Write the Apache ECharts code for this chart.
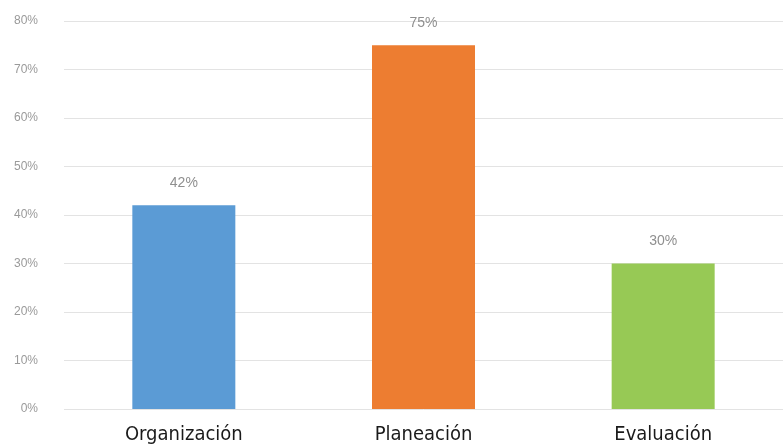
<!DOCTYPE html>
<html><head><meta charset="utf-8">
<script src="https://cdn.jsdelivr.net/npm/echarts@6/dist/echarts.min.js"></script>
<style>html,body{margin:0;padding:0;background:#fff}#c{width:783px;height:448px}</style>
</head><body><div id="c"></div>
<script>
const categories = ['Organización', 'Planeación', 'Evaluación'];
const values = [42, 75, 30];
const barColors = ['#5B9BD5', '#ED7D31', '#97C955'];
const yTicks = { min: 0, max: 80, interval: 10 };

const chart = echarts.init(document.getElementById('c'));
chart.setOption({
  animation: false,
  grid: { left: 64, right: 0, top: 21, bottom: 39, containLabel: false },
  xAxis: {
    type: 'category', data: categories,
    axisLine: { show: false }, axisTick: { show: false },
    axisLabel: { color: '#1a1a1a', fontSize: 20, fontFamily: '"Liberation Sans Narrow", "DejaVu Sans Condensed", sans-serif', margin: 16 }
  },
  yAxis: {
    type: 'value', min: yTicks.min, max: yTicks.max, interval: yTicks.interval,
    axisLine: { show: false }, axisTick: { show: false },
    splitLine: { lineStyle: { color: '#e3e3e3', width: 1 } },
    axisLabel: { formatter: '{value}%', color: '#9a9a9a', fontSize: 12, fontFamily: '"Liberation Sans Narrow", sans-serif', margin: 26 }
  },
  series: [{
    type: 'bar', barWidth: 103,
    data: values.map((v, i) => ({ value: v, itemStyle: { color: barColors[i] } })),
    label: { show: true, position: 'top', formatter: '{c}%', color: '#8f8f8f', fontSize: 14, fontFamily: '"Liberation Sans Narrow", sans-serif', distance: 15 }
  }]
});
</script></body></html>
